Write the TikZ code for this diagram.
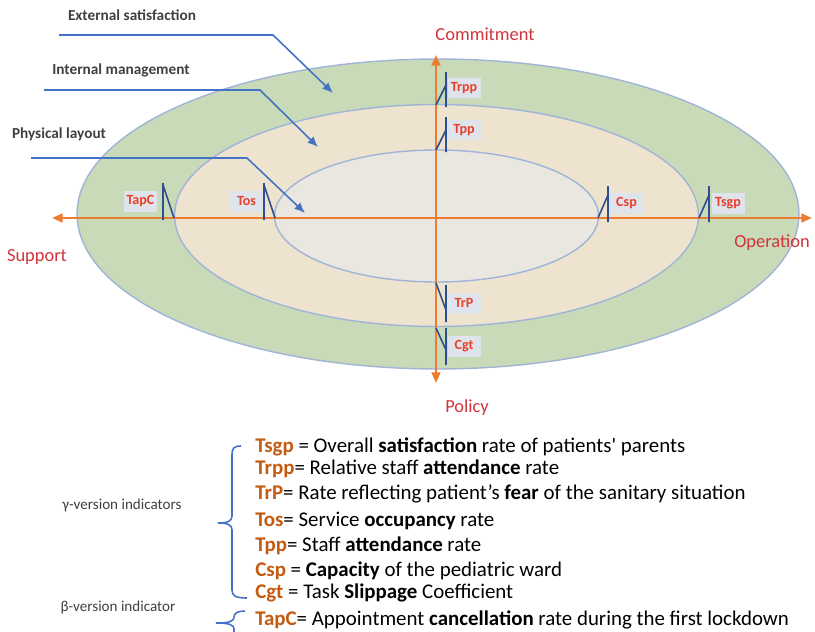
\documentclass[tikz,border=0pt]{standalone}
\usepackage{fontspec}
\setmainfont{Carlito}
\usetikzlibrary{arrows.meta,positioning}
\definecolor{ringgreen}{RGB}{201,218,184}
\definecolor{ringbeige}{RGB}{237,227,207}
\definecolor{ringgrey}{RGB}{233,231,224}
\definecolor{ringblue}{RGB}{160,180,216}
\definecolor{axisorange}{RGB}{237,125,49}
\definecolor{tickblue}{RGB}{47,79,143}
\definecolor{calloutblue}{RGB}{68,114,196}
\definecolor{tagfill}{RGB}{222,227,236}
\definecolor{tagred}{RGB}{232,64,42}
\definecolor{dirred}{RGB}{208,52,60}
\definecolor{layergray}{RGB}{64,64,64}
\definecolor{abbrorange}{RGB}{197,90,17}
\newcommand{\legab}[1]{\textcolor{abbrorange}{\textbf{#1}}}

\begin{document}
\begin{tikzpicture}[x=0.02cm,y=-0.02cm,>={Triangle[length=6pt,width=5pt]}]
    \tikzstyle{ring} = [draw=ringblue, line width=0.8pt]
    \tikzstyle{axis} = [draw=axisorange, line width=1.2pt]
    \tikzstyle{tag} = [fill=tagfill, text=tagred, font=\fontsize{8}{9}\selectfont\bfseries,
               minimum width=0.66cm, minimum height=0.42cm, inner sep=0pt]
    \tikzstyle{tick} = [draw=tickblue, line width=0.9pt]
    \tikzstyle{callout} = [draw=calloutblue, line width=0.9pt, -{Latex[length=6pt,width=5pt]}]
    \tikzstyle{layer} = [text=layergray, font=\fontsize{8.7}{10}\selectfont\bfseries]
    \tikzstyle{version} = [text=layergray, font=\fontsize{8.6}{10}\selectfont]
    \tikzstyle{dir} = [text=dirred, font=\fontsize{10.5}{12}\selectfont]
    \tikzstyle{legend} = [anchor=west, font=\fontsize{11.9}{13}\selectfont, inner sep=0pt]
    \tikzstyle{brace} = [draw=calloutblue, line width=0.9pt]

    \useasboundingbox (0,0) rectangle (815,632);

    % Three nested rings
    \draw[ring, fill=ringgreen] (438,214) ellipse [x radius=7.22cm, y radius=3.1cm];
    \draw[ring, fill=ringbeige] (436.5,215.5) ellipse [x radius=5.24cm, y radius=2.22cm];
    \draw[ring, fill=ringgrey] (436.5,216) ellipse [x radius=3.24cm, y radius=1.32cm];

    % Axes
    \coordinate (west) at (52,218);
    \coordinate (east) at (812,218);
    \coordinate (north) at (436,55);
    \coordinate (south) at (436,383);
    \draw[axis,<->] (west) -- (east);
    \draw[axis,<->] (north) -- (south);

    \node[dir] (commit) at (485,34) {Commitment};
    \node[dir] (support) at (37,257) {Support};
    \node[dir] (operation) at (772,243) {Operation};
    \node[dir] (policy) at (467,408) {Policy};

    % Indicator tags
    \node[tag] (trpp) at (464,88) {Trpp};
    \node[tag] (tpp) at (464,130) {Tpp};
    \node[tag] (trp) at (464,303) {TrP};
    \node[tag] (cgt) at (464,346) {Cgt};
    \node[tag] (tapc) at (140.5,201) {TapC};
    \node[tag] (tos) at (246.5,201) {Tos};
    \node[tag] (csp) at (626.5,203) {Csp};
    \node[tag] (tsgp) at (728,203) {Tsgp};

    % Ticks on the rings
    \draw[tick] (446,72) -- (446,107) (436,105) -- (446,85);
    \draw[tick] (446,117) -- (446,152) (436,150) -- (446,130);
    \draw[tick] (446,285) -- (446,322) (436,283) -- (446,310);
    \draw[tick] (446,328) -- (446,365) (436,328) -- (446,350);
    \draw[tick] (163,183) -- (163,220) (163,185) -- (174,218);
    \draw[tick] (264,183) -- (264,220) (264,185) -- (275,218);
    \draw[tick] (608,186) -- (608,222) (598,218) -- (608,195);
    \draw[tick] (709,186) -- (709,222) (699,218) -- (709,195);

    % Ring names with callouts
    \node[layer] (external) at (132,15) {External satisfaction};
    \node[layer] (internal) at (121,70) {Internal management};
    \node[layer] (physical) at (59,134) {Physical layout};

    \coordinate (ext-a) at (59,35);
    \coordinate (ext-b) at (273,35);
    \coordinate (ext-c) at (333,93);
    \coordinate (int-a) at (44,90);
    \coordinate (int-b) at (260,90);
    \coordinate (int-c) at (318,147);
    \coordinate (phy-a) at (31,158);
    \coordinate (phy-b) at (247,158);
    \coordinate (phy-c) at (305,213);
    \draw[callout] (ext-a) -- (ext-b) -- (ext-c);
    \draw[callout] (int-a) -- (int-b) -- (int-c);
    \draw[callout] (phy-a) -- (phy-b) -- (phy-c);

    % Legend
    \node[legend] (l-tsgp) at (255,447) {\legab{Tsgp} = Overall \textbf{satisfaction} rate of patients\textquotesingle{} parents};
    \node[legend] (l-trpp) at (255,469) {\legab{Trpp}= Relative staff \textbf{attendance} rate};
    \node[legend] (l-trp) at (255,494) {\legab{TrP}= Rate reflecting patient’s \textbf{fear} of the sanitary situation};
    \node[legend] (l-tos) at (255,521) {\legab{Tos}= Service \textbf{occupancy} rate};
    \node[legend] (l-tpp) at (255,546) {\legab{Tpp}= Staff \textbf{attendance} rate};
    \node[legend] (l-csp) at (255,571) {\legab{Csp} = \textbf{Capacity} of the pediatric ward};
    \node[legend] (l-cgt) at (255,593) {\legab{Cgt} = Task \textbf{Slippage} Coefficient};
    \node[legend] (l-tapc) at (255,620) {\legab{TapC}= Appointment \textbf{cancellation} rate during the first lockdown};

    \node[version] (gamma) at (122,505) {γ-version indicators};
    \node[version] (beta) at (118,608) {β-version indicator};

    % Braces
    \draw[brace] (241,446) .. controls (234,446) and (232,448) .. (232,455) -- (232,516)
      .. controls (232,521) and (228,523) .. (218,523)
      .. controls (228,523) and (232,525) .. (232,530) -- (232,590)
      .. controls (232,596) and (236,598) .. (247,598);
    \draw[brace] (245,611) .. controls (238,611) and (234,613) .. (234,617)
      .. controls (234,621) and (230,623) .. (216,623)
      .. controls (230,623) and (234,625) .. (234,629) -- (234,640);

\end{tikzpicture}
\end{document}
